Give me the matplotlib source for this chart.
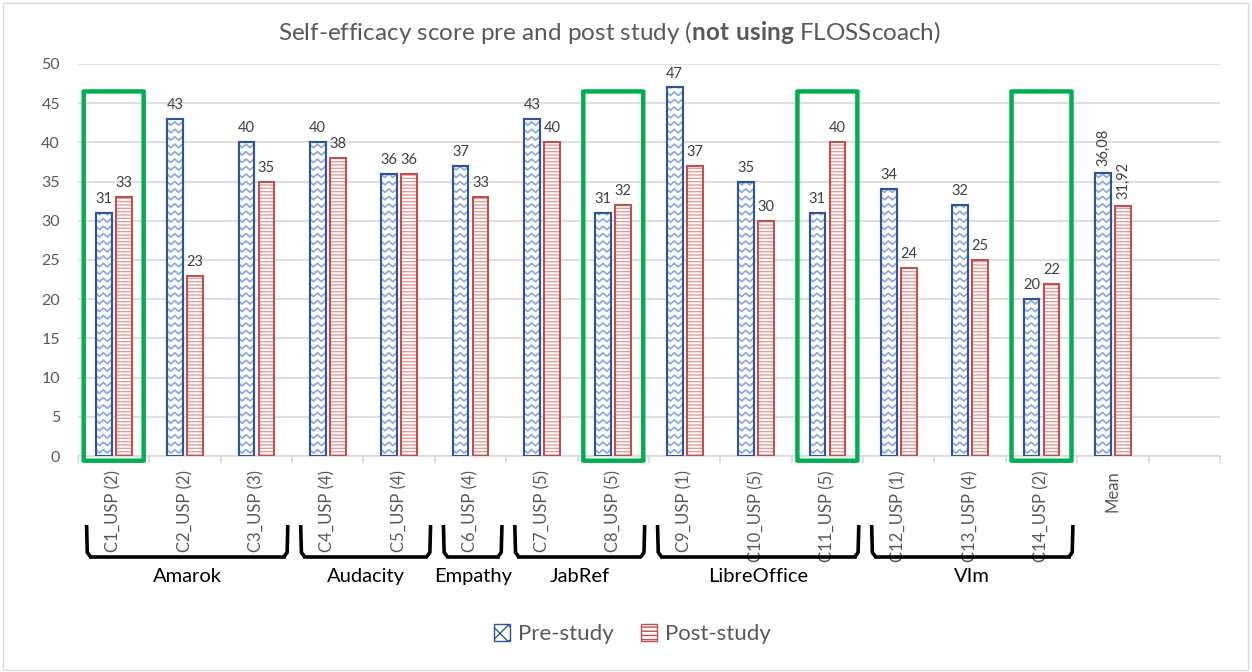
import matplotlib.pyplot as plt
import matplotlib.patches as mpatches
from matplotlib.transforms import blended_transform_factory
import numpy as np

# data
categories = ["C1_USP (2)", "C2_USP (2)", "C3_USP (3)", "C4_USP (4)", "C5_USP (4)",
              "C6_USP (4)", "C7_USP (5)", "C8_USP (5)", "C9_USP (1)", "C10_USP (5)",
              "C11_USP (5)", "C12_USP (1)", "C13_USP (4)", "C14_USP (2)", "Mean", ""]
pre_study = [31, 43, 40, 40, 36, 37, 43, 31, 47, 35, 31, 34, 32, 20, 36.08]
post_study = [33, 23, 35, 38, 36, 33, 40, 32, 37, 30, 40, 24, 25, 22, 31.92]
groups = [("Amarok", 0, 2), ("Audacity", 3, 4), ("Empathy", 5, 5),
          ("JabRef", 6, 7), ("LibreOffice", 8, 10), ("VIm", 11, 13)]
highlighted = [0, 7, 10, 13]

PRE_EDGE = '#2F5597'
PRE_HATCH = '#8FAADC'
POST_EDGE = '#C0504D'
POST_HATCH = '#E59C9A'
GRAY = '#595959'

plt.rcParams['font.family'] = ['Lato', 'DejaVu Sans']
plt.rcParams['mathtext.fontset'] = 'custom'
plt.rcParams['mathtext.rm'] = 'Lato'
plt.rcParams['mathtext.bf'] = 'Lato:bold'
plt.rcParams['hatch.linewidth'] = 1.0

fig = plt.figure(figsize=(12.52, 6.72), dpi=100)
ax = fig.add_axes([0.0623, 0.3214, 0.9121, 0.5834])

x = np.arange(len(pre_study))
w = 0.22
off = 0.14

# pre-study bars: white + zigzag pattern + dark edge
pre_bars = ax.bar(x - off, pre_study, w, color='white', edgecolor=PRE_EDGE, linewidth=1.5, zorder=3)
for b in pre_bars:
    x0, bw, bh = b.get_x(), b.get_width(), b.get_height()
    xs = np.arange(x0 - 0.06, x0 + bw + 0.06, 0.055)
    sign = np.where(np.arange(len(xs)) % 2 == 0, -1, 1)
    for yr in np.arange(0.6, bh + 0.5, 0.95):
        ln, = ax.plot(xs, yr + 0.22 * sign, color=PRE_HATCH, lw=1.3, zorder=3.5)
        ln.set_clip_path(b)
    ax.bar(b.get_x() + bw / 2, bh, bw, fill=False, edgecolor=PRE_EDGE, linewidth=1.5, zorder=4)

# post-study bars: horizontal lines
ax.bar(x + off, post_study, w, color='white', edgecolor=POST_HATCH, linewidth=0, hatch='-----', zorder=3)
ax.bar(x + off, post_study, w, fill=False, edgecolor=POST_EDGE, linewidth=1.5, zorder=4)

def fmt(v):
    return f"{v:.0f}" if float(v).is_integer() else f"{v:.2f}".replace('.', ',')

for i, (p, q) in enumerate(zip(pre_study, post_study)):
    rot = 90 if not float(p).is_integer() else 0
    for xv, v in ((i - off, p), (i + off, q)):
        ax.annotate(fmt(v), (xv, v), xytext=(0, 5), textcoords='offset points',
                    ha='center', va='bottom', fontsize=10.5, color='#404040', rotation=rot)

ax.set_xlim(-0.5, len(categories) - 0.5)
ax.set_ylim(0, 50)
ax.set_yticks(np.arange(0, 51, 5))
ax.yaxis.grid(True, color='#D9D9D9', linewidth=1.2, zorder=0)
ax.set_axisbelow(True)
for s in ['top', 'right', 'left']:
    ax.spines[s].set_visible(False)
ax.spines['bottom'].set_color('#D9D9D9')
ax.spines['bottom'].set_linewidth(1.2)
ax.tick_params(axis='y', length=0, labelsize=11.5, labelcolor=GRAY, pad=13)
ax.set_xticks(np.arange(len(categories)))
ax.set_xticklabels(categories, rotation=90, fontsize=12, color=GRAY)
ax.tick_params(axis='x', which='major', length=0, pad=10)
ax.set_xticks(np.arange(len(categories) + 1) - 0.5, minor=True)
ax.tick_params(axis='x', which='minor', length=5, color='#D9D9D9', width=1.2)

# green highlight boxes
for i in highlighted:
    r = mpatches.FancyBboxPatch((i - 0.42, -0.6), 0.84, 47.1,
                                boxstyle='round,pad=0,rounding_size=0.03',
                                fill=False, edgecolor='#00B050', linewidth=3.2,
                                zorder=5, clip_on=False)
    ax.add_patch(r)

# group brackets
trans = blended_transform_factory(ax.transData, ax.transAxes)
ytop, ybot = -0.176, -0.258
for name, a, b in groups:
    xl, xr = a - 0.38, b + 0.44
    ax.plot([xl, xl + 0.01, xl + 0.06], [ytop, ybot + 0.012, ybot], color='black', lw=2.6,
            transform=trans, clip_on=False, zorder=6, solid_capstyle='butt')
    ax.plot([xl + 0.06, xr - 0.06], [ybot, ybot], color='black', lw=2.6,
            transform=trans, clip_on=False, zorder=6)
    ax.plot([xr - 0.06, xr - 0.01, xr], [ybot, ybot + 0.012, ytop], color='black', lw=2.6,
            transform=trans, clip_on=False, zorder=6, solid_capstyle='butt')
    ax.text((xl + xr) / 2, -0.308, name, transform=trans, ha='center', va='center',
            fontsize=14.5, color='black', zorder=6)

fig.text(0.4866, 0.952, r"Self-efficacy score pre and post study ($\mathbf{not\ using}$ FLOSScoach)",
         ha='center', va='center', fontsize=17.5, color=GRAY)

handles = [mpatches.Patch(facecolor='white', edgecolor=PRE_EDGE, hatch='xx', label='Pre-study'),
           mpatches.Patch(facecolor='white', edgecolor=POST_EDGE, hatch='----', label='Post-study')]
fig.legend(handles=handles, loc='center', bbox_to_anchor=(0.505, 0.056), ncol=2, frameon=False,
           fontsize=16, labelcolor=GRAY, handlelength=0.75, handleheight=0.75,
           handletextpad=0.35, columnspacing=1.2)

fig.patches.append(mpatches.Rectangle((0.002, 0.003), 0.995, 0.993, transform=fig.transFigure,
                                      fill=False, edgecolor='#D9D9D9', linewidth=1))

fig.savefig("out.png", dpi=100)
